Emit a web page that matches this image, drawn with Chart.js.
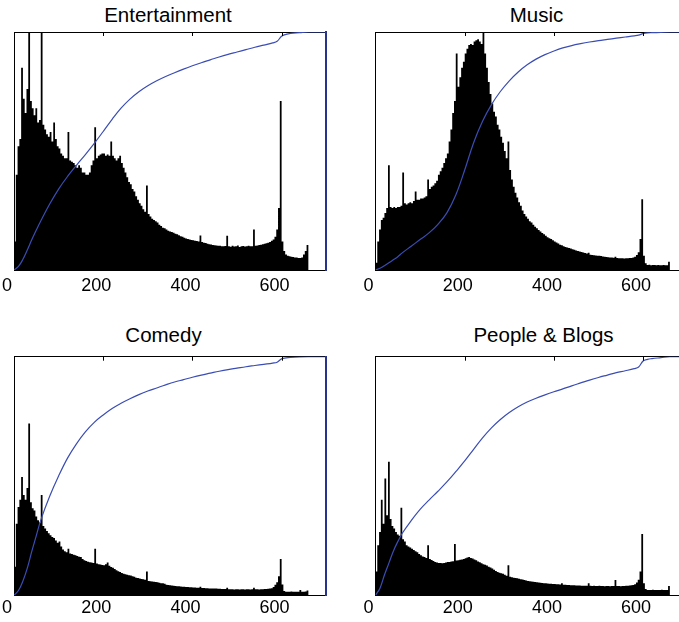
<!DOCTYPE html>
<html>
<head>
<meta charset="utf-8">
<script src="https://cdn.jsdelivr.net/npm/chart.js@4.4.1/dist/chart.umd.min.js"></script>
<style>
html, body { margin: 0; padding: 0; background: #fff; width: 679px; height: 622px; overflow: hidden; position: relative; }
.ttl { position: absolute; width: 300px; text-align: center; font: 20.5px/20.5px 'Liberation Sans', Arial, Helvetica, sans-serif; color: #000; white-space: nowrap; }
canvas { position: absolute; }
</style>
</head>
<body>
<script>
// histogram bins are 4 s wide, starting at 0
const binWidth = 4;
const xTicks = [0, 200, 400, 600];
const titles = ['Entertainment', 'Music', 'Comedy', 'People & Blogs'];

// heights in % of the panel height
const entHist = [
  12, 40, 52, 55, 85, 72, 66, 76, 100, 71,
  68, 65, 68, 62, 63, 100, 61, 59, 57, 56,
  58, 54, 62, 55, 52, 51, 49, 48, 47, 47,
  58, 46, 45.5, 45, 44, 43, 44, 43, 41, 41,
  40, 40, 41, 44, 46, 60, 47, 48, 48.5, 49,
  49, 48, 48.5, 48, 54, 48, 47, 46, 47, 48,
  45, 43, 41, 39, 37, 36, 34, 33, 31, 29.5,
  28, 27, 25.5, 24.5, 35.5, 23.5, 22.5, 21.5, 21, 20.5,
  20, 19, 18.5, 17.8, 17.5, 17, 16.5, 16.2, 16, 15.6,
  15.2, 15, 14.6, 14.2, 14, 13.6, 13.2, 13, 12.8, 12.6,
  12.5, 12.3, 12.2, 12, 14.5, 11.8, 11.5, 11.3, 11, 10.8,
  10.7, 10.5, 10.4, 10.3, 10.2, 10.2, 10, 10, 10.1, 14.4,
  10, 9.8, 10.2, 9.9, 10, 10.3, 9.7, 10, 10.1, 9.9,
  10, 10.2, 10, 10, 17, 10.2, 10.3, 10.5, 10.6, 10.8,
  11, 11.2, 11.5, 11.8, 12.3, 12.8, 14, 17, 26, 71,
  12, 8, 6.5, 6, 5.8, 5.6, 5.5, 5.3, 5.2, 5,
  5, 5.2, 6.5, 8, 10.5, 0, 0, 0, 0, 0,
  0, 0, 0, 0, 0
];
const musHist = [
  3, 12, 17, 21, 22, 24, 26, 44, 26.5, 26,
  26.5, 26, 26.5, 26.5, 27, 41, 28, 27.5, 28, 28.5,
  28, 29, 33, 29.5, 29.5, 30, 30, 30.5, 31, 38,
  34, 35, 35.5, 36.5, 37.5, 40, 41.5, 43, 45, 47,
  49, 54, 59, 66, 71, 91, 77, 81, 85, 87.5,
  91, 93, 94.5, 95, 94.5, 96, 96.5, 97, 96, 95,
  100, 91, 85, 79, 74, 70, 66.5, 64.5, 61, 59,
  56, 53.5, 50, 47, 54, 42, 38, 35, 32.5, 30.5,
  28.5, 27, 25, 23.5, 22.5, 21.5, 20.5, 20, 19, 18.2,
  17.5, 16.8, 16.2, 15.5, 15, 14.4, 13.8, 13.3, 13, 12.5,
  12, 11.6, 11.1, 10.6, 10.4, 10, 9.7, 9.5, 9.2, 9,
  8.7, 8.5, 8.2, 8, 7.8, 7.6, 7.4, 7.1, 6.9, 7.3,
  6.4, 6.3, 6.2, 6.1, 6, 6, 5.9, 5.7, 5.6, 5.5,
  5.4, 5.3, 5.2, 5.1, 5.6, 5, 4.9, 4.9, 4.9, 4.8,
  4.9, 4.9, 5, 5, 5.2, 5.6, 6.3, 7.5, 13, 29.7,
  6, 2.8, 2.1, 2.2, 2, 2.1, 2.1, 2, 2.1, 2,
  2, 2.1, 2, 2, 3.5, 0, 0, 0, 0, 0,
  0, 0, 0, 0, 0
];
const comHist = [
  12, 30, 37, 40, 49.6, 42, 40, 45, 72, 39,
  36.5, 35.5, 33, 31.5, 30.5, 42, 29, 28, 27, 26,
  25.2, 24.4, 24, 23, 22, 22.6, 20.5, 19.2, 18.5, 18,
  19.5, 17.5, 17.3, 17, 16.8, 16.5, 16.2, 16, 15.2, 14.7,
  14.4, 14.1, 13.9, 13.7, 13.5, 19.5, 13.3, 13, 12.9, 12.7,
  12.6, 13, 13.7, 12.4, 11.9, 11.5, 11, 10.5, 10.1, 9.8,
  9.3, 9, 8.8, 8.6, 8.4, 8.3, 8, 7.8, 7.4, 7.2,
  7, 6.8, 6.7, 6.5, 10, 6, 5.9, 5.8, 5.7, 5.6,
  5.5, 5.3, 5.1, 5, 4.8, 4.4, 4.3, 4.2, 4.1, 4,
  3.9, 3.8, 3.8, 3.7, 3.6, 3.6, 3.5, 3.5, 3.4, 3.4,
  3.3, 3.3, 3.2, 3.2, 3.6, 3.1, 3.1, 3, 3, 2.9,
  2.9, 2.8, 2.8, 2.8, 2.7, 2.7, 2.6, 2.6, 2.6, 3.2,
  2.5, 2.5, 2.5, 2.4, 2.5, 2.5, 2.4, 2.5, 2.5, 2.4,
  2.5, 2.5, 2.4, 2.5, 3.2, 2.5, 2.5, 2.4, 2.5, 2.5,
  2.6, 2.6, 2.7, 2.8, 3, 3.5, 4.4, 5.5, 8, 15.2,
  4.5, 1.8, 1.5, 1.5, 1.5, 1.6, 1.5, 1.5, 1.5, 1.5,
  2.2, 1.5, 1.5, 1.6, 2, 0, 0, 0, 0, 0,
  0, 0, 0, 0, 0
];
const peoHist = [
  10, 21, 26.5, 40, 30, 49, 33.5, 56, 32, 29,
  28, 26.5, 25.5, 25, 36.7, 23.5, 22.5, 21, 20.5, 20,
  19.5, 19, 18.5, 18, 17.3, 16.8, 16.3, 16, 15.6, 21,
  15.2, 14.8, 14.4, 14, 13.7, 13.5, 13.5, 13.4, 13.5, 13.7,
  14, 14, 14.2, 14.3, 21.5, 14.6, 14.7, 14.9, 15, 15.2,
  15.5, 15.8, 16, 15.6, 15.4, 15, 14.7, 14.2, 13.8, 13.4,
  13, 12.8, 12.5, 12, 11.6, 11.2, 10.7, 10.2, 9.8, 9.5,
  9.2, 9, 8.6, 8.2, 12.6, 7.8, 7.6, 7.4, 7.2, 7.1,
  6.9, 6.7, 6.6, 6.4, 6.2, 6, 5.9, 5.8, 5.7, 5.6,
  5.5, 5.4, 5.3, 5.2, 5.1, 5, 4.9, 4.8, 4.8, 4.7,
  4.7, 4.6, 4.6, 4.5, 5, 4.4, 4.4, 4.3, 4.3, 4.2,
  4.2, 4.2, 4.1, 4.1, 4.1, 4, 4, 4, 4, 5,
  4, 3.9, 4, 3.9, 3.9, 4, 3.9, 3.9, 3.8, 3.9,
  3.9, 3.8, 3.9, 3.9, 6.4, 3.9, 3.9, 3.8, 3.9, 3.9,
  4, 4, 4.1, 4.2, 4.3, 4.6, 5.4, 6.5, 10, 25.7,
  5, 2.6, 2.2, 2.2, 2.2, 2.3, 2.2, 2.2, 2.2, 2.2,
  2.3, 2.2, 2.2, 2.2, 3.9, 0, 0, 0, 0, 0,
  0, 0, 0, 0, 0
];

// cumulative share (%) at these seconds
const cdfX = [0, 10, 20, 30, 40, 50, 60, 80, 100, 120, 140, 160, 180, 200, 220, 240, 260, 280, 300, 320,
  340, 360, 380, 400, 420, 440, 460, 480, 500, 520, 540, 560, 580, 590, 600, 610, 620, 640, 660, 700];
const entCdf = [0, 1.5, 4.5, 8.5, 12.8, 16.8, 20.6, 27.7, 34, 39.3, 44, 48.5, 53.2, 58.2, 63.3, 68, 71.8, 74.9, 77.4, 79.5,
  81.3, 82.9, 84.4, 85.8, 87.1, 88.3, 89.5, 90.6, 91.6, 92.6, 93.6, 94.5, 95.4, 96.1, 98.2, 99, 99.4, 99.7, 100, 100];
const musCdf = [0, 0.7, 1.8, 3, 4.3, 5.6, 7.2, 10, 12.8, 15.6, 19.2, 24, 31.5, 42, 53.5, 62.5, 69.5, 75, 79.5, 83.2,
  86.2, 88.6, 90.5, 92, 93.3, 94.3, 95.1, 95.8, 96.4, 96.9, 97.4, 97.9, 98.4, 98.7, 99.3, 99.6, 99.7, 99.85, 100, 100];
const comCdf = [0, 2, 6, 11.5, 18.5, 25, 31.5, 41.5, 50, 57.5, 63.5, 68.5, 72.5, 75.6, 78.3, 80.5, 82.4, 84.1, 85.6, 86.9,
  88.2, 89.4, 90.4, 91.4, 92.3, 93.1, 93.9, 94.6, 95.2, 95.8, 96.3, 96.8, 97.3, 97.7, 99.1, 99.5, 99.7, 99.9, 100, 100];
const peoCdf = [0, 3, 8.5, 13.5, 18.5, 22.5, 26, 31.3, 36, 39.9, 43.6, 47.5, 51.8, 56.3, 61.2, 66, 70.2, 73.7, 76.6, 79,
  81, 82.6, 84, 85.3, 86.5, 87.8, 89, 90.2, 91.3, 92.3, 93.3, 94.1, 95, 95.7, 98.2, 98.9, 99.2, 99.6, 100, 100];

const XMAX = 700;
const PLOT_W = 312.2;
const AXIS_H = 34;

const panels = [
  {title: titles[0], hist: entHist, cdf: entCdf, left: 14, top: 32, bottom: 270, titleX: 168, titleTop: 4.6, pad: 5.5},
  {title: titles[1], hist: musHist, cdf: musCdf, left: 375.5, top: 32, bottom: 270, titleX: 536.5, titleTop: 4.6, pad: 5.5},
  {title: titles[2], hist: comHist, cdf: comCdf, left: 14, top: 356.7, bottom: 595.3, titleX: 163.5, titleTop: 325, pad: 2},
  {title: titles[3], hist: peoHist, cdf: peoCdf, left: 375.5, top: 356.7, bottom: 595.3, titleX: 543.5, titleTop: 325, pad: 2}
];

// little inward tick marks on top and bottom edges
const tickMarks = {
  id: 'tickMarks',
  afterDatasetsDraw(chart) {
    const {ctx, chartArea: a, scales: {x}} = chart;
    ctx.save();
    ctx.strokeStyle = '#000';
    ctx.lineWidth = 1;
    xTicks.forEach(v => {
      if (v === 0) return;
      const px = Math.round(x.getPixelForValue(v)) + 0.5;
      ctx.beginPath();
      ctx.moveTo(px, a.top); ctx.lineTo(px, a.top + 4);
      ctx.moveTo(px, a.bottom); ctx.lineTo(px, a.bottom - 4);
      ctx.stroke();
    });
    ctx.restore();
  }
};

Chart.defaults.font.family = "'Liberation Sans', Arial, Helvetica, sans-serif";

panels.forEach(p => {
  const t = document.createElement('div');
  t.className = 'ttl';
  t.textContent = p.title;
  t.style.left = (p.titleX - 150) + 'px';
  t.style.top = p.titleTop + 'px';
  document.body.appendChild(t);

  const cl = Math.floor(p.left) - 20, ct = Math.floor(p.top) - 4;
  const padL = p.left - cl, padT = p.top - ct;
  const cw = Math.ceil(padL + PLOT_W + 20), ch = Math.ceil(p.bottom - ct + AXIS_H);
  const padR = cw - padL - PLOT_W, padB = ch - (p.bottom - ct) - AXIS_H;

  const cv = document.createElement('canvas');
  cv.width = cw; cv.height = ch;
  cv.style.left = cl + 'px'; cv.style.top = ct + 'px';
  cv.style.width = cw + 'px'; cv.style.height = ch + 'px';
  document.body.appendChild(cv);

  new Chart(cv.getContext('2d'), {
    type: 'line',
    data: {
      datasets: [
        {
          data: cdfX.map((x, i) => ({x: x, y: p.cdf[i]})),
          yAxisID: 'y2',
          borderColor: '#3a4db4',
          borderWidth: 1.2,
          pointRadius: 0,
          fill: false,
          tension: 0.4,
          order: 0
        },
        {
          data: p.hist.map((h, i) => ({x: i * binWidth, y: h})),
          yAxisID: 'y',
          stepped: true,
          fill: 'origin',
          backgroundColor: '#000',
          borderColor: 'rgba(0,0,0,0)',
          borderWidth: 1,
          pointRadius: 0,
          order: 1
        }
      ]
    },
    options: {
      responsive: false,
      animation: false,
      devicePixelRatio: 1,
      layout: {padding: {left: padL, right: padR, top: padT, bottom: padB}},
      plugins: {legend: {display: false}, tooltip: {enabled: false}, title: {display: false}},
      scales: {
        x: {
          type: 'linear', position: 'bottom', min: 0, max: XMAX,
          afterBuildTicks: s => { s.ticks = xTicks.map(v => ({value: v})); },
          afterFit: s => { s.height = AXIS_H; },
          ticks: {color: '#000', font: {size: 18}, padding: p.pad, labelOffset: -7, maxRotation: 0, autoSkip: false},
          grid: {display: false, drawTicks: false},
          border: {display: true, color: '#000', width: 1}
        },
        xTop: {
          type: 'linear', position: 'top', min: 0, max: XMAX,
          afterFit: s => { s.height = 0; },
          ticks: {display: false},
          grid: {display: false, drawTicks: false},
          border: {display: true, color: '#000', width: 1}
        },
        y: {
          min: 0, max: 100, position: 'left',
          afterFit: s => { s.width = 0; },
          ticks: {display: false},
          grid: {display: false, drawTicks: false},
          border: {display: true, color: '#000', width: 1}
        },
        y2: {
          min: 0, max: 100, position: 'right',
          afterFit: s => { s.width = 0; },
          ticks: {display: false},
          grid: {display: false, drawTicks: false},
          border: {display: true, color: '#27338c', width: 2}
        }
      }
    },
    plugins: [tickMarks]
  });
});
</script>
</body>
</html>
